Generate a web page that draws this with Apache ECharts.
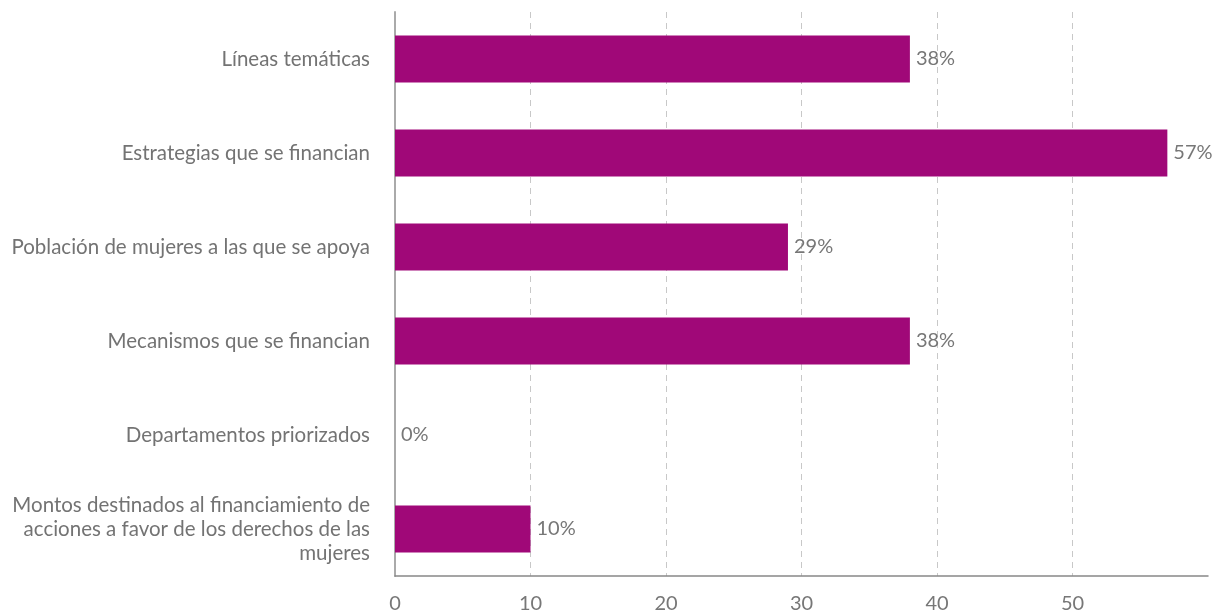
<!DOCTYPE html>
<html><head><meta charset="utf-8">
<script src="https://cdn.jsdelivr.net/npm/echarts@6/dist/echarts.min.js"></script>
<style>html,body{margin:0;padding:0;background:#fff}#c{width:1220px;height:614px}</style>
</head><body><div id="c"></div>
<script>
const categories = [
  "Líneas temáticas",
  "Estrategias que se financian",
  "Población de mujeres a las que se apoya",
  "Mecanismos que se financian",
  "Departamentos priorizados",
  "Montos destinados al financiamiento de\nacciones a favor de los derechos de las\nmujeres"
];
const values = [38, 57, 29, 38, 0, 10];
const xTicks = [0, 10, 20, 30, 40, 50];

const chart = echarts.init(document.getElementById('c'));
chart.setOption({
  animation: false,
  textStyle: { fontFamily: 'Lato' },
  grid: { left: 395, right: 12, top: 12, bottom: 34, containLabel: false },
  xAxis: {
    type: 'value', min: 0, max: 60, interval: 10,
    axisLine: { show: true, lineStyle: { color: '#888', width: 1.5 } },
    axisTick: { show: false },
    axisLabel: {
      color: '#777', fontSize: 20, margin: 18, fontFamily: 'Lato',
      formatter: v => xTicks.indexOf(v) >= 0 ? String(v) : ''
    },
    splitLine: { show: true, showMaxLine: false, showMinLine: false, lineStyle: { color: '#c8c8c8', type: [6, 5], width: 1 } }
  },
  yAxis: {
    type: 'category', data: categories, inverse: true,
    axisLine: { show: true, lineStyle: { color: '#aaa', width: 2 } },
    axisTick: { show: false },
    axisLabel: { color: '#737373', fontSize: 20.5, margin: 25, lineHeight: 24, align: 'right', fontFamily: 'Lato' }
  },
  series: [{
    type: 'bar', data: values, barWidth: '50%',
    itemStyle: { color: '#A00878' },
    label: { show: true, position: 'right', distance: 6, formatter: '{c}%', color: '#777', fontSize: 20, fontFamily: 'Lato' }
  }]
});
</script></body></html>
